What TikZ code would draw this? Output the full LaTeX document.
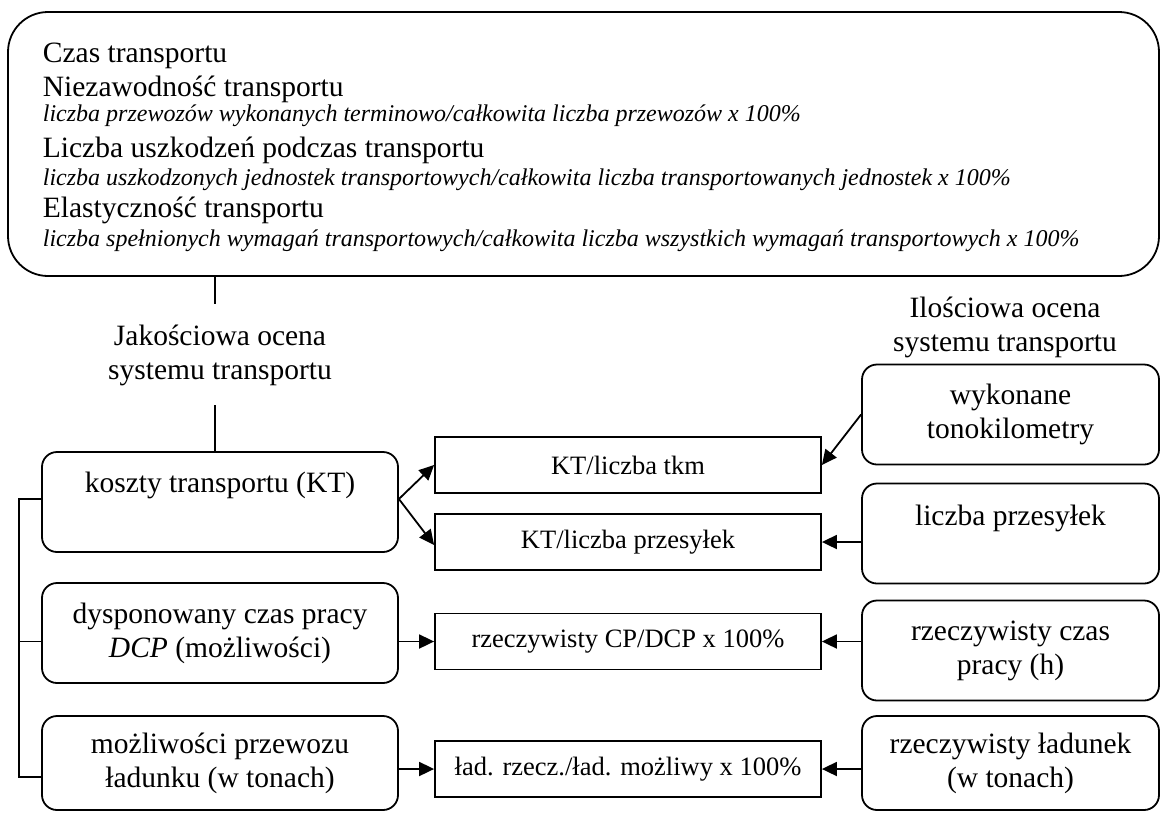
\documentclass[tikz,border=0pt]{standalone}
\usepackage{fontspec}
\setmainfont{Liberation Serif}
\usetikzlibrary{arrows.meta, positioning}

\begin{document}
\begin{tikzpicture}[x=1pt, y=-1pt, line width=1.8pt,
    font=\fontsize{29.5}{34}\selectfont,
    rbox/.style={draw, rounded corners=15pt, minimum width=356pt, minimum height=100pt, align=center, inner sep=0pt},
    rect/.style={draw, minimum width=386pt, minimum height=56pt, inner sep=0pt, font=\fontsize{26.5}{30}\selectfont},
    metric/.style={anchor=base west, inner sep=0pt},
    formula/.style={anchor=base west, inner sep=0pt, font=\fontsize{24}{28}\selectfont\itshape},
    lbl/.style={align=center, inner sep=0pt},
    arr/.style={-{Triangle[length=15pt,width=14pt]}}]
        \useasboundingbox (0,0) rectangle (1160,812);

        % Quality measures
        \node[draw, rounded corners=40pt, minimum width=1151pt, minimum height=264pt, inner sep=0pt] (measures) at (583.5,144) {};
        \node[metric] (m1) at (42,62) {Czas transportu};
        \node[metric] (m2) at (42,96) {Niezawodność transportu};
        \node[formula] (f2) at (42,121) {liczba przewozów wykonanych terminowo/całkowita liczba przewozów x 100\%};
        \node[metric] (m3) at (42,157) {Liczba uszkodzeń podczas transportu};
        \node[formula] (f3) at (42,185) {liczba uszkodzonych jednostek transportowych/całkowita liczba transportowanych jednostek x 100\%};
        \node[metric] (m4) at (42,217) {Elastyczność transportu};
        \node[formula] (f4) at (42,246) {liczba spełnionych wymagań transportowych/całkowita liczba wszystkich wymagań transportowych x 100\%};

        % Headings
        \node[lbl] (quality) at (220,355) {Jakościowa ocena\\systemu transportu};
        \node[lbl] (quantity) at (1005,327) {Ilościowa ocena\\systemu transportu};
        \coordinate (q1) at (215,304);
        \coordinate (q2) at (215,405);

        % Left column
        \node[rbox] (costs) at (220,502) {};
        \node (costsT) at (220,485) {koszty transportu (KT)};
        \node[rbox] (worktime) at (220,633) {dysponowany czas pracy\\\textit{DCP} (możliwości)};
        \node[rbox, minimum height=94pt] (capacity) at (220,763) {możliwości przewozu\\ładunku (w tonach)};

        % Indicators
        \node[rect] (perTkm) at (628,465) {KT/liczba tkm};
        \node[rect] (perShip) at (628,542) {KT/liczba przesyłek};
        \node[rect] (timeRatio) at (628,641.5) {rzeczywisty CP/DCP x 100\%};
        \node[rect] (loadRatio) at (628,769) {ład. rzecz./ład. możliwy x 100\%};

        % Right column
        \node[rbox, minimum width=297pt] (tkm) at (1010.5,414.5) {wykonane\\tonokilometry};
        \node[rbox, minimum width=297pt] (shipments) at (1010.5,533.5) {};
        \node (shipmentsT) at (1010.5,518) {liczba przesyłek};
        \node[rbox, minimum width=297pt] (realTime) at (1010.5,650.5) {rzeczywisty czas\\pracy (h)};
        \node[rbox, minimum width=297pt, minimum height=94pt] (realLoad) at (1010.5,763) {rzeczywisty ładunek\\(w tonach)};

        % Connections
        \draw (q1 |- measures.south) -- (q1);
        \draw (q2) -- (q2 |- costs.north);
        \draw ([yshift=3pt]costs.west) -- ++(-22,0) |- ([yshift=-14pt]capacity.west);
        \draw (worktime.west |- timeRatio.west) -- ++(-22,0);
        \draw[arr] ([yshift=3pt]costs.east) -- (perTkm.west);
        \draw[arr] ([yshift=3pt]costs.east) -- ([yshift=-3pt]perShip.west);
        \draw[arr] (tkm.west) -- (perTkm.east);
        \draw[arr] (shipments.west |- perShip.east) -- (perShip.east);
        \draw[arr] (worktime.east |- timeRatio.west) -- (timeRatio.west);
        \draw[arr] (realTime.west |- timeRatio.east) -- (timeRatio.east);
        \draw[arr] (capacity.east |- loadRatio.west) -- (loadRatio.west);
        \draw[arr] (realLoad.west |- loadRatio.east) -- (loadRatio.east);
    \end{tikzpicture}
\end{document}
